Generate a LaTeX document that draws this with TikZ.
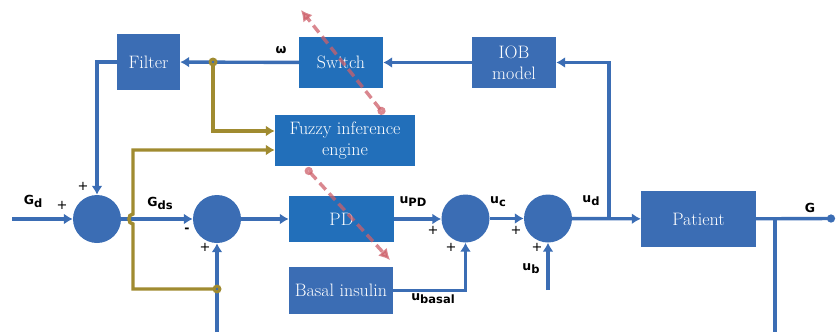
\documentclass[tikz,border=0pt]{standalone}
\usepackage{fontspec}
\usetikzlibrary{arrows.meta}
\newfontfamily\lblfont{DejaVu Sans}
\definecolor{boxblue}{RGB}{59,109,180}
\definecolor{swblue}{RGB}{34,111,186}
\definecolor{olivel}{RGB}{160,139,48}
\definecolor{trail}{RGB}{205,95,105}
\newcommand{\lbl}[2]{#1\raisebox{-0.45ex}{\fontsize{11.5}{11.5}\selectfont #2}}
\begin{document}
\begin{tikzpicture}[x=1pt,y=-1pt,
      block/.style={fill=boxblue, text=white, inner sep=0pt, font=\fontsize{18}{21}\selectfont, align=center},
      swblock/.style={block, fill=swblue},
      summer/.style={circle, fill=boxblue, minimum size=48pt, inner sep=0pt},
      wire/.style={draw=boxblue, line width=3.4pt, -{Latex[length=9pt,width=11pt]}},
      plain/.style={draw=boxblue, line width=3.4pt},
      fuzzyline/.style={draw=olivel, line width=3.4pt},
      tag/.style={font=\lblfont\bfseries\fontsize{12.5}{12.5}\selectfont, inner sep=0pt},
      sign/.style={font=\lblfont\fontsize{13}{13}\selectfont, inner sep=0pt},
      move/.style={draw=trail, opacity=0.75, line width=3.4pt, dash pattern=on 9pt off 5pt}]
      \useasboundingbox (0,0) rectangle (840,332);
      \node[block, minimum width=63pt, minimum height=56pt] (filter) at (148.5,62) {Filter};
      \node[swblock, minimum width=84pt, minimum height=51pt] (switch) at (341,62.5) {Switch};
      \node[block, minimum width=84pt, minimum height=51pt] (iob) at (514,62.5) {IOB\\model};
      \node[swblock, minimum width=140pt, minimum height=51pt] (fuzzy) at (345,140.5) {Fuzzy inference\\engine};
      \node[swblock, minimum width=105pt, minimum height=46pt] (pd) at (341.5,219) {PD};
      \node[block, minimum width=104pt, minimum height=47pt] (basal) at (341,290.5) {Basal insulin};
      \node[block, minimum width=115pt, minimum height=56pt] (patient) at (698.5,219) {Patient};
      \node[summer] (sum1) at (97,219) {};
      \node[summer] (sum2) at (217,219) {};
      \node[summer] (sum3) at (465.5,218.5) {};
      \node[summer] (sum4) at (548,218.5) {};
      \coordinate (gdin) at (12,219);
      \coordinate (fb) at (217,332);
      \coordinate (fbdot) at (217,289);
      \coordinate (wdot) at (213,62);
      \coordinate (ubin) at (548,290);
      \coordinate (ud) at (609,218.5);
      \coordinate (gout) at (835,218.5);
      \coordinate (gdown) at (775,218.5);
      \draw[wire] (gdin) -- (sum1);
      \draw[wire] (sum1) -- (sum2);
      \draw[wire] (sum2) -- (pd);
      \draw[wire] (pd) -- (sum3.west |- pd);
      \draw[wire] (sum3) -- (sum4);
      \draw[wire] (sum4) -- (patient);
      \draw[wire] (fb) -- (sum2);
      \draw[wire] (basal.east) -| (sum3);
      \draw[wire] (ubin) -- (sum4);
      \draw[wire] (ud) |- (iob);
      \draw[wire] (iob) -- (switch);
      \draw[wire] (switch) -- (filter);
      \draw[wire] (filter.west) -| (sum1);
      \draw[plain, -{Circle[length=8pt]}] (patient) -- (gout);
      \draw[plain] (gdown) -- (775,332);
      \draw[fuzzyline, -{Latex[length=9pt,width=11pt]}] (wdot) |- (fuzzy.west |- 0,131);
      \draw[fuzzyline, -{Latex[length=9pt,width=11pt]}] (fbdot) -| (133,224)
        .. controls (127.5,224) and (127.5,214) .. (133,214) |- (fuzzy.west |- 0,150);
      \fill[olivel] (wdot) circle (4.5pt) (fbdot) circle (4.5pt);
      \fill[boxblue] (wdot) circle (1.3pt) (fbdot) circle (1.3pt);
      \draw[move, {Circle[open,length=8pt]}-{Latex[length=11pt,width=12pt]}] (384,114) -- (301,10);
      \draw[move, {Circle[open,length=8pt]}-{Latex[length=11pt,width=12pt]}] (306,168) -- (390,260);
      \node[tag] (wlbl) at (281,50) {ω};
      \node[tag] (gdlbl) at (33,201) {\lbl{G}{d}};
      \node[tag] (gdslbl) at (160,203) {\lbl{G}{ds}};
      \node[tag] (upd) at (413,202) {\lbl{u}{PD}};
      \node[tag] (ubasal) at (433,299) {\lbl{u}{basal}};
      \node[tag] (uc) at (498,202) {\lbl{u}{c}};
      \node[tag] (ub) at (531,269) {\lbl{u}{b}};
      \node[tag] (udlbl) at (591,201) {\lbl{u}{d}};
      \node[tag] (glbl) at (810,208) {G};
      \node[sign] (p1) at (62,205) {+};
      \node[sign] (p2) at (83,186) {+};
      \node[tag] (m1) at (187,230) {-};
      \node[sign] (p3) at (205,247) {+};
      \node[sign] (p4) at (433,230) {+};
      \node[sign] (p5) at (451,247) {+};
      \node[sign] (p6) at (516,230) {+};
      \node[sign] (p7) at (537,247) {+};
\end{tikzpicture}
\end{document}
